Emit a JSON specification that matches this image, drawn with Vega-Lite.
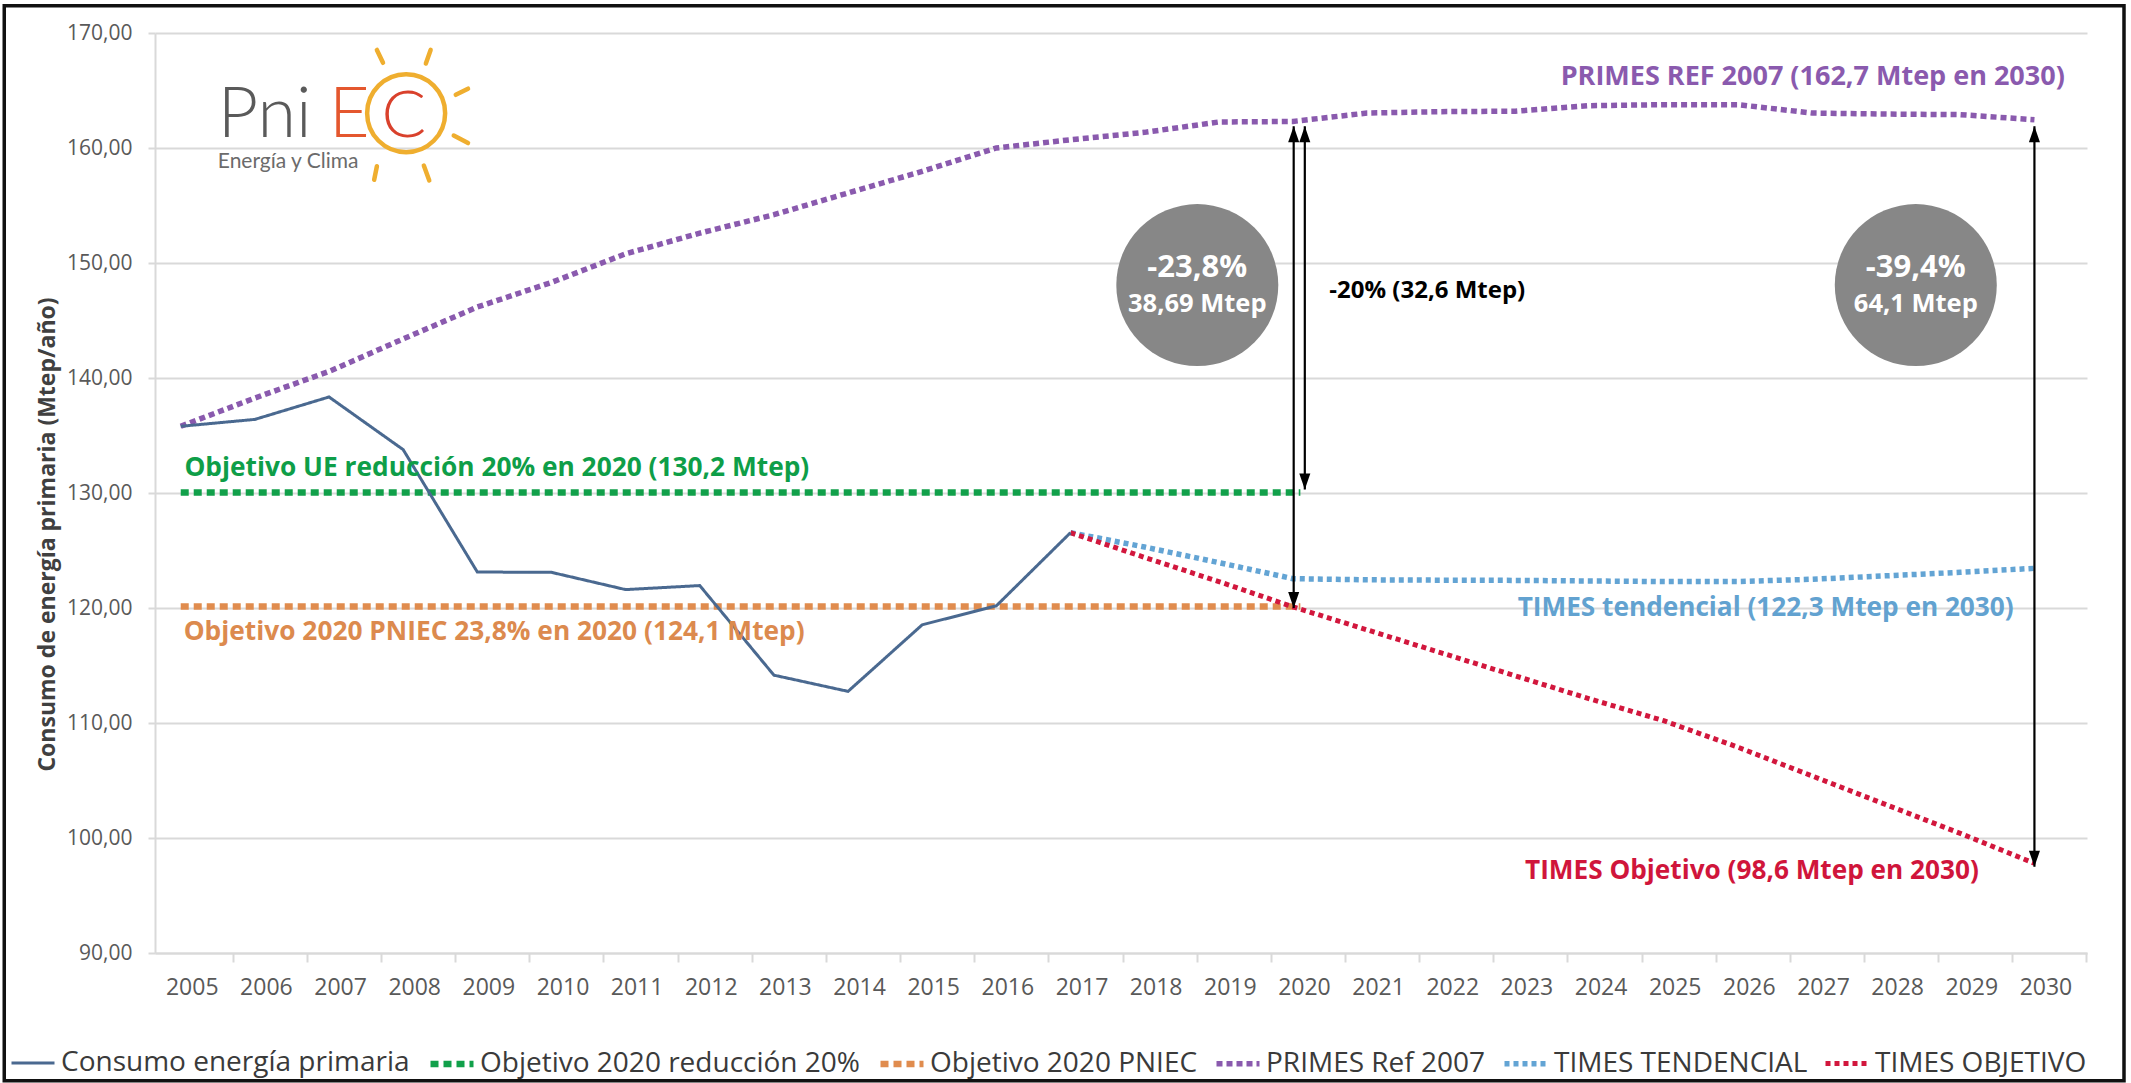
{
  "$schema": "https://vega.github.io/schema/vega-lite/v6.json",
  "width": 1932,
  "height": 920,
  "autosize": "none",
  "padding": {"left": 155, "top": 33, "right": 44, "bottom": 130},
  "background": "white",
  "config": {"view": {"stroke": null}, "font": "Open Sans"},
  "datasets": {
    "series": [
      {"series": "Objetivo 2020 reducción 20%", "year": 2005, "value": 130.05},
      {"series": "Objetivo 2020 reducción 20%", "year": 2020.1, "value": 130.05},
      {"series": "Objetivo 2020 PNIEC", "year": 2005, "value": 120.14},
      {"series": "Objetivo 2020 PNIEC", "year": 2020.1, "value": 120.14},
      {"series": "PRIMES Ref 2007", "year": 2005, "value": 135.8},
      {"series": "PRIMES Ref 2007", "year": 2006, "value": 138.26},
      {"series": "PRIMES Ref 2007", "year": 2007, "value": 140.57},
      {"series": "PRIMES Ref 2007", "year": 2008, "value": 143.4},
      {"series": "PRIMES Ref 2007", "year": 2009, "value": 146.17},
      {"series": "PRIMES Ref 2007", "year": 2010, "value": 148.31},
      {"series": "PRIMES Ref 2007", "year": 2011, "value": 150.8},
      {"series": "PRIMES Ref 2007", "year": 2012, "value": 152.6},
      {"series": "PRIMES Ref 2007", "year": 2013, "value": 154.2},
      {"series": "PRIMES Ref 2007", "year": 2014, "value": 156.09},
      {"series": "PRIMES Ref 2007", "year": 2015, "value": 157.97},
      {"series": "PRIMES Ref 2007", "year": 2016, "value": 160.0},
      {"series": "PRIMES Ref 2007", "year": 2017, "value": 160.72},
      {"series": "PRIMES Ref 2007", "year": 2018, "value": 161.36},
      {"series": "PRIMES Ref 2007", "year": 2019, "value": 162.26},
      {"series": "PRIMES Ref 2007", "year": 2020, "value": 162.31},
      {"series": "PRIMES Ref 2007", "year": 2021, "value": 163.04},
      {"series": "PRIMES Ref 2007", "year": 2022, "value": 163.16},
      {"series": "PRIMES Ref 2007", "year": 2023, "value": 163.2},
      {"series": "PRIMES Ref 2007", "year": 2024, "value": 163.68},
      {"series": "PRIMES Ref 2007", "year": 2025, "value": 163.77},
      {"series": "PRIMES Ref 2007", "year": 2026, "value": 163.77},
      {"series": "PRIMES Ref 2007", "year": 2027, "value": 163.04},
      {"series": "PRIMES Ref 2007", "year": 2028, "value": 162.95},
      {"series": "PRIMES Ref 2007", "year": 2029, "value": 162.9},
      {"series": "PRIMES Ref 2007", "year": 2030, "value": 162.46},
      {"series": "TIMES TENDENCIAL", "year": 2017, "value": 126.55},
      {"series": "TIMES TENDENCIAL", "year": 2018, "value": 125.3},
      {"series": "TIMES TENDENCIAL", "year": 2019, "value": 123.95},
      {"series": "TIMES TENDENCIAL", "year": 2020, "value": 122.55},
      {"series": "TIMES TENDENCIAL", "year": 2021, "value": 122.45},
      {"series": "TIMES TENDENCIAL", "year": 2022, "value": 122.42},
      {"series": "TIMES TENDENCIAL", "year": 2023, "value": 122.4},
      {"series": "TIMES TENDENCIAL", "year": 2024, "value": 122.35},
      {"series": "TIMES TENDENCIAL", "year": 2025, "value": 122.3},
      {"series": "TIMES TENDENCIAL", "year": 2026, "value": 122.3},
      {"series": "TIMES TENDENCIAL", "year": 2027, "value": 122.5},
      {"series": "TIMES TENDENCIAL", "year": 2028, "value": 122.8},
      {"series": "TIMES TENDENCIAL", "year": 2029, "value": 123.1},
      {"series": "TIMES TENDENCIAL", "year": 2030, "value": 123.45},
      {"series": "TIMES OBJETIVO", "year": 2017, "value": 126.55},
      {"series": "TIMES OBJETIVO", "year": 2018, "value": 124.4},
      {"series": "TIMES OBJETIVO", "year": 2019, "value": 122.3},
      {"series": "TIMES OBJETIVO", "year": 2020, "value": 120.1},
      {"series": "TIMES OBJETIVO", "year": 2021, "value": 118.1},
      {"series": "TIMES OBJETIVO", "year": 2022, "value": 116.1},
      {"series": "TIMES OBJETIVO", "year": 2023, "value": 114.1},
      {"series": "TIMES OBJETIVO", "year": 2024, "value": 112.1},
      {"series": "TIMES OBJETIVO", "year": 2025, "value": 110.2},
      {"series": "TIMES OBJETIVO", "year": 2026, "value": 107.9},
      {"series": "TIMES OBJETIVO", "year": 2027, "value": 105.4},
      {"series": "TIMES OBJETIVO", "year": 2028, "value": 102.9},
      {"series": "TIMES OBJETIVO", "year": 2029, "value": 100.4},
      {"series": "TIMES OBJETIVO", "year": 2030, "value": 97.8},
      {"series": "Consumo energía primaria", "year": 2005, "value": 135.8},
      {"series": "Consumo energía primaria", "year": 2006, "value": 136.4},
      {"series": "Consumo energía primaria", "year": 2007, "value": 138.35},
      {"series": "Consumo energía primaria", "year": 2008, "value": 133.77},
      {"series": "Consumo energía primaria", "year": 2009, "value": 123.13},
      {"series": "Consumo energía primaria", "year": 2010, "value": 123.1},
      {"series": "Consumo energía primaria", "year": 2011, "value": 121.6},
      {"series": "Consumo energía primaria", "year": 2012, "value": 121.95},
      {"series": "Consumo energía primaria", "year": 2013, "value": 114.16},
      {"series": "Consumo energía primaria", "year": 2014, "value": 112.75},
      {"series": "Consumo energía primaria", "year": 2015, "value": 118.54},
      {"series": "Consumo energía primaria", "year": 2016, "value": 120.19},
      {"series": "Consumo energía primaria", "year": 2017, "value": 126.55}
    ]
  },
  "layer": [
    {
      "data": {"values": [{}]},
      "mark": {"type": "rect", "fill": null, "stroke": "#111111", "strokeWidth": 3.5},
      "encoding": {
        "x": {"datum": 2002.62, "type": "quantitative"},
        "x2": {"datum": 2031.208},
        "y": {"datum": 172.37, "type": "quantitative"},
        "y2": {"datum": 78.9}
      }
    },
    {
      "data": {"name": "series"},
      "mark": {"type": "line", "strokeCap": "butt"},
      "encoding": {
        "x": {
          "field": "year", "type": "quantitative",
          "scale": {"domain": [2004.653, 2030.709], "nice": false, "zero": false},
          "axis": {
            "values": [2005,2006,2007,2008,2009,2010,2011,2012,2013,2014,2015,2016,2017,2018,2019,2020,2021,2022,2023,2024,2025,2026,2027,2028,2029,2030],
            "format": "d", "grid": false, "title": null,
            "domain": true, "domainColor": "#d9d9d9", "domainWidth": 2,
            "ticks": true, "tickColor": "#d9d9d9", "tickWidth": 2, "tickSize": 9, "tickOffset": 52,
            "labelOffset": -41, "labelFont": "Open Sans", "labelFontSize": 23, "labelColor": "#595959",
            "labelPadding": 14, "labelFlush": false, "labelOverlap": false, "labelBound": false
          }
        },
        "y": {
          "field": "value", "type": "quantitative",
          "scale": {"domain": [90, 170], "nice": false, "zero": false},
          "axis": {
            "values": [90,100,110,120,130,140,150,160,170],
            "labelExpr": "replace(format(datum.value, '.2f'), '.', ',')",
            "grid": true, "gridColor": "#d9d9d9", "gridWidth": 2,
            "domain": true, "domainColor": "#d9d9d9", "domainWidth": 2,
            "ticks": true, "tickSize": 7, "tickColor": "#d9d9d9", "tickWidth": 2,
            "labelFont": "Open Sans", "labelFontSize": 21, "labelColor": "#595959", "labelPadding": 16,
            "labelFlush": false, "labelOverlap": false,
            "title": "Consumo de energía primaria (Mtep/año)",
            "titleFont": "Open Sans", "titleFontSize": 23, "titleFontWeight": "bold", "titleColor": "#404040",
            "titleX": -108, "titleY": 501, "titleAngle": 270, "titleAlign": "center", "titleBaseline": "middle"
          }
        },
        "color": {
          "field": "series", "type": "nominal",
          "scale": {
            "domain": ["Consumo energía primaria", "Objetivo 2020 reducción 20%", "Objetivo 2020 PNIEC", "PRIMES Ref 2007", "TIMES TENDENCIAL", "TIMES OBJETIVO"],
            "range": ["#4a6990", "#11a04a", "#e08c4e", "#8a5aae", "#63a4d4", "#d2173d"]
          },
          "legend": {
            "orient": "none", "legendX": -147, "legendY": 1006, "direction": "horizontal", "columns": 6,
            "title": null, "symbolType": "stroke", "symbolSize": 1849, "symbolStrokeWidth": 4,
            "labelFont": "Open Sans", "labelFontSize": 28, "labelColor": "#3a3a3a", "labelLimit": 0,
            "labelOffset": 3, "columnPadding": 7, "padding": 0
          }
        },
        "strokeDash": {
          "field": "series", "type": "nominal",
          "scale": {
            "domain": ["Consumo energía primaria", "Objetivo 2020 reducción 20%", "Objetivo 2020 PNIEC", "PRIMES Ref 2007", "TIMES TENDENCIAL", "TIMES OBJETIVO"],
            "range": [[1, 0], [8, 5], [8, 5], [6, 4], [5, 4], [5, 4]]
          },
          "legend": {
            "orient": "none", "legendX": -147, "legendY": 1006, "direction": "horizontal", "columns": 6,
            "title": null, "symbolType": "stroke", "symbolSize": 1849, "symbolStrokeWidth": 4,
            "labelFont": "Open Sans", "labelFontSize": 28, "labelColor": "#3a3a3a", "labelLimit": 0,
            "labelOffset": 3, "columnPadding": 7, "padding": 0
          }
        },
        "strokeWidth": {
          "field": "series", "type": "nominal",
          "scale": {
            "type": "ordinal",
            "domain": ["Consumo energía primaria", "Objetivo 2020 reducción 20%", "Objetivo 2020 PNIEC", "PRIMES Ref 2007", "TIMES TENDENCIAL", "TIMES OBJETIVO"],
            "range": [3, 6.5, 6.5, 5.5, 5.5, 5]
          },
          "legend": null
        }
      }
    },
    {
      "data": {"values": [{"year": 2018.71, "value": 148.08}, {"year": 2028.4, "value": 148.08}]},
      "mark": {"type": "point", "shape": "circle", "filled": true, "fill": "#878787", "opacity": 1, "size": 26244, "strokeWidth": 0},
      "encoding": {"x": {"field": "year", "type": "quantitative"}, "y": {"field": "value", "type": "quantitative"}}
    },
    {
      "data": {"values": [{"year": 2018.71, "value": 149.55, "label": "-23,8%"}, {"year": 2028.4, "value": 149.55, "label": "-39,4%"}]},
      "mark": {"type": "text", "align": "center", "baseline": "middle", "font": "Open Sans", "fontWeight": "bold", "fontSize": 31, "color": "white"},
      "encoding": {"x": {"field": "year", "type": "quantitative"}, "y": {"field": "value", "type": "quantitative"}, "text": {"field": "label"}}
    },
    {
      "data": {"values": [{"year": 2018.71, "value": 146.45, "label": "38,69 Mtep"}, {"year": 2028.4, "value": 146.45, "label": "64,1 Mtep"}]},
      "mark": {"type": "text", "align": "center", "baseline": "middle", "font": "Open Sans", "fontWeight": "bold", "fontSize": 25.5, "color": "white"},
      "encoding": {"x": {"field": "year", "type": "quantitative"}, "y": {"field": "value", "type": "quantitative"}, "text": {"field": "label"}}
    },
    {
      "data": {"values": [{"year": 2020.01, "top": 161.9, "bottom": 120.0}, {"year": 2020.16, "top": 161.9, "bottom": 130.3}, {"year": 2030.0, "top": 161.9, "bottom": 97.5}]},
      "mark": {"type": "rule", "color": "black", "strokeWidth": 2.2},
      "encoding": {"x": {"field": "year", "type": "quantitative"}, "y": {"field": "top", "type": "quantitative"}, "y2": {"field": "bottom"}}
    },
    {
      "data": {"values": [{"year": 2020.01, "value": 161.2}, {"year": 2020.16, "value": 161.2}, {"year": 2030.0, "value": 161.2}]},
      "mark": {"type": "point", "shape": "M0,-1L0.69,1L-0.69,1Z", "filled": true, "fill": "black", "opacity": 1, "size": 256, "strokeWidth": 0},
      "encoding": {"x": {"field": "year", "type": "quantitative"}, "y": {"field": "value", "type": "quantitative"}}
    },
    {
      "data": {"values": [{"year": 2020.01, "value": 120.7}, {"year": 2020.16, "value": 131.0}, {"year": 2030.0, "value": 98.2}]},
      "mark": {"type": "point", "shape": "M0,1L0.69,-1L-0.69,-1Z", "filled": true, "fill": "black", "opacity": 1, "size": 256, "strokeWidth": 0},
      "encoding": {"x": {"field": "year", "type": "quantitative"}, "y": {"field": "value", "type": "quantitative"}}
    },
    {
      "data": {"values": [{"year": 2020.49, "value": 147.6, "label": "-20% (32,6 Mtep)"}]},
      "mark": {"type": "text", "align": "left", "baseline": "middle", "font": "Open Sans", "fontWeight": "bold", "fontSize": 24, "color": "black"},
      "encoding": {"x": {"field": "year", "type": "quantitative"}, "y": {"field": "value", "type": "quantitative"}, "text": {"field": "label"}}
    },
    {
      "data": {"values": [{"year": 2030.41, "value": 166.2, "label": "PRIMES REF 2007 (162,7 Mtep en 2030)"}]},
      "mark": {"type": "text", "align": "right", "baseline": "middle", "font": "Open Sans", "fontWeight": "bold", "fontSize": 27, "color": "#8a5aae"},
      "encoding": {"x": {"field": "year", "type": "quantitative"}, "y": {"field": "value", "type": "quantitative"}, "text": {"field": "label"}}
    },
    {
      "data": {"values": [{"year": 2005.05, "value": 132.16, "label": "Objetivo UE reducción 20% en 2020 (130,2 Mtep)"}]},
      "mark": {"type": "text", "align": "left", "baseline": "middle", "font": "Open Sans", "fontWeight": "bold", "fontSize": 26.3, "color": "#0e9e48"},
      "encoding": {"x": {"field": "year", "type": "quantitative"}, "y": {"field": "value", "type": "quantitative"}, "text": {"field": "label"}}
    },
    {
      "data": {"values": [{"year": 2005.04, "value": 117.94, "label": "Objetivo 2020 PNIEC 23,8% en 2020 (124,1 Mtep)"}]},
      "mark": {"type": "text", "align": "left", "baseline": "middle", "font": "Open Sans", "fontWeight": "bold", "fontSize": 26.3, "color": "#dc8a4e"},
      "encoding": {"x": {"field": "year", "type": "quantitative"}, "y": {"field": "value", "type": "quantitative"}, "text": {"field": "label"}}
    },
    {
      "data": {"values": [{"year": 2029.72, "value": 119.98, "label": "TIMES tendencial (122,3 Mtep en 2030)"}]},
      "mark": {"type": "text", "align": "right", "baseline": "middle", "font": "Open Sans", "fontWeight": "bold", "fontSize": 26.2, "color": "#62a2d0"},
      "encoding": {"x": {"field": "year", "type": "quantitative"}, "y": {"field": "value", "type": "quantitative"}, "text": {"field": "label"}}
    },
    {
      "data": {"values": [{"year": 2023.13, "value": 97.15, "label": "TIMES Objetivo (98,6 Mtep en 2030)"}]},
      "mark": {"type": "text", "align": "left", "baseline": "middle", "font": "Open Sans", "fontWeight": "bold", "fontSize": 26.2, "color": "#d0153b"},
      "encoding": {"x": {"field": "year", "type": "quantitative"}, "y": {"field": "value", "type": "quantitative"}, "text": {"field": "label"}}
    },
    {
      "data": {"values": [{"year": 2008.04, "value": 163.03}]},
      "mark": {"type": "point", "shape": "circle", "filled": false, "stroke": "#efae2f", "strokeWidth": 4.5, "opacity": 1, "size": 6084},
      "encoding": {"x": {"field": "year", "type": "quantitative"}, "y": {"field": "value", "type": "quantitative"}}
    },
    {
      "data": {"values": [{"year": 2008.04, "value": 163.03}]},
      "mark": {"type": "point", "shape": "M-0.43,-0.93L-0.34,-0.74M0.36,-0.93L0.29,-0.73M0.73,-0.27L0.91,-0.36M0.70,0.33L0.91,0.44M-0.43,0.78L-0.47,0.98M0.26,0.77L0.34,0.99", "filled": false, "stroke": "#efae2f", "strokeWidth": 4.5, "strokeCap": "round", "opacity": 1, "size": 18496},
      "encoding": {"x": {"field": "year", "type": "quantitative"}, "y": {"field": "value", "type": "quantitative"}}
    },
    {
      "data": {"values": [{"year": 2005.5, "value": 161.0, "label": "Pni"}]},
      "mark": {"type": "text", "align": "left", "baseline": "alphabetic", "font": "Lato", "fontWeight": 300, "fontSize": 70, "color": "#5a5a5a"},
      "encoding": {"x": {"field": "year", "type": "quantitative"}, "y": {"field": "value", "type": "quantitative"}, "text": {"field": "label"}}
    },
    {
      "data": {"values": [{"year": 2007.0, "value": 161.0, "label": "E"}]},
      "mark": {"type": "text", "align": "left", "baseline": "alphabetic", "font": "Lato", "fontWeight": 300, "fontSize": 70, "color": "#e4572e"},
      "encoding": {"x": {"field": "year", "type": "quantitative"}, "y": {"field": "value", "type": "quantitative"}, "text": {"field": "label"}}
    },
    {
      "data": {"values": [{"year": 2008.01, "value": 160.95, "label": "C"}]},
      "mark": {"type": "text", "align": "center", "baseline": "alphabetic", "font": "Lato", "fontWeight": 300, "fontSize": 66, "color": "#d9412c"},
      "encoding": {"x": {"field": "year", "type": "quantitative"}, "y": {"field": "value", "type": "quantitative"}, "text": {"field": "label"}}
    },
    {
      "data": {"values": [{"year": 2005.5, "value": 158.3, "label": "Energía y Clima"}]},
      "mark": {"type": "text", "align": "left", "baseline": "alphabetic", "font": "Lato", "fontSize": 21, "color": "#6b6b6b"},
      "encoding": {"x": {"field": "year", "type": "quantitative"}, "y": {"field": "value", "type": "quantitative"}, "text": {"field": "label"}}
    }
  ]
}
